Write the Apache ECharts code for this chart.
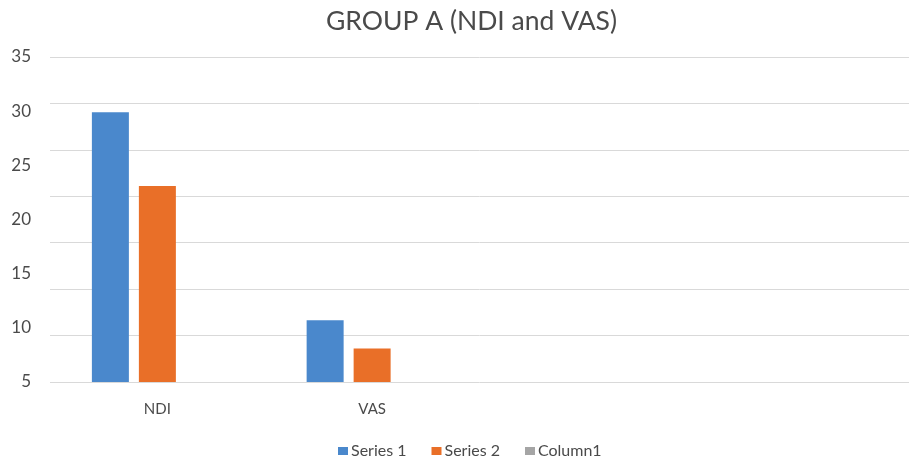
<!DOCTYPE html>
<html>
<head>
<meta charset="utf-8">
<script src="https://cdn.jsdelivr.net/npm/echarts@6/dist/echarts.min.js"></script>
<style>
html,body{margin:0;padding:0;background:#fff;}
#main{width:909px;height:460px;}
</style>
</head>
<body>
<div id="main"></div>
<script>
var titleText = 'GROUP A (NDI and VAS)';
var categories = ['NDI', 'VAS', '', ''];
var seriesNames = ['Series 1', 'Series 2', 'Column1'];
var series1 = [29.9, 10.7, null, null];
var series2 = [23.1, 8.1, null, null];
var column1 = [null, null, null, null];
var yTicks = [5, 10, 15, 20, 25, 30, 35];

var FONT = 'Lato';
var TXT = '#4a4a4a';
var chart = echarts.init(document.getElementById('main'), null, {renderer: 'canvas'});
chart.setOption({
  animation: false,
  backgroundColor: '#ffffff',
  title: {
    text: titleText,
    left: 321, top: 3,
    textStyle: {fontFamily: FONT, fontSize: 26.5, fontWeight: 'normal', color: TXT}
  },
  legend: {
    data: seriesNames,
    left: 333, top: 438,
    itemWidth: 10, itemHeight: 8, itemGap: 25,
    icon: 'rect',
    textStyle: {fontFamily: FONT, fontSize: 16, color: TXT, padding: [0, 0, 0, -2]}
  },
  grid: {left: 50, right: 0, top: 57, bottom: 78, containLabel: false},
  xAxis: {
    type: 'category',
    data: categories,
    axisLine: {show: false},
    axisTick: {show: false},
    axisLabel: {fontFamily: FONT, fontSize: 15, color: TXT, margin: 20}
  },
  yAxis: [
    {
      type: 'value', min: yTicks[0], max: yTicks[yTicks.length - 1], interval: 5,
      axisLine: {show: false}, axisTick: {show: false},
      splitLine: {show: false},
      axisLabel: {fontFamily: FONT, fontSize: 17, color: TXT, margin: 19}
    },
    {
      type: 'value', min: 0, max: 35, interval: 5, position: 'left',
      axisLine: {show: false}, axisTick: {show: false},
      axisLabel: {show: false},
      splitLine: {show: true, lineStyle: {color: '#d9d9d9', width: 1}}
    }
  ],
  series: [
    {name: seriesNames[0], type: 'bar', data: series1, yAxisIndex: 0, barWidth: 37, barGap: '27%', itemStyle: {color: '#4a88cc'}},
    {name: seriesNames[1], type: 'bar', data: series2, yAxisIndex: 0, barWidth: 37, barGap: '27%', itemStyle: {color: '#e96f28'}},
    {name: seriesNames[2], type: 'bar', data: column1, yAxisIndex: 0, barWidth: 37, barGap: '27%', itemStyle: {color: '#a5a5a5'}}
  ]
});
</script>
</body>
</html>
